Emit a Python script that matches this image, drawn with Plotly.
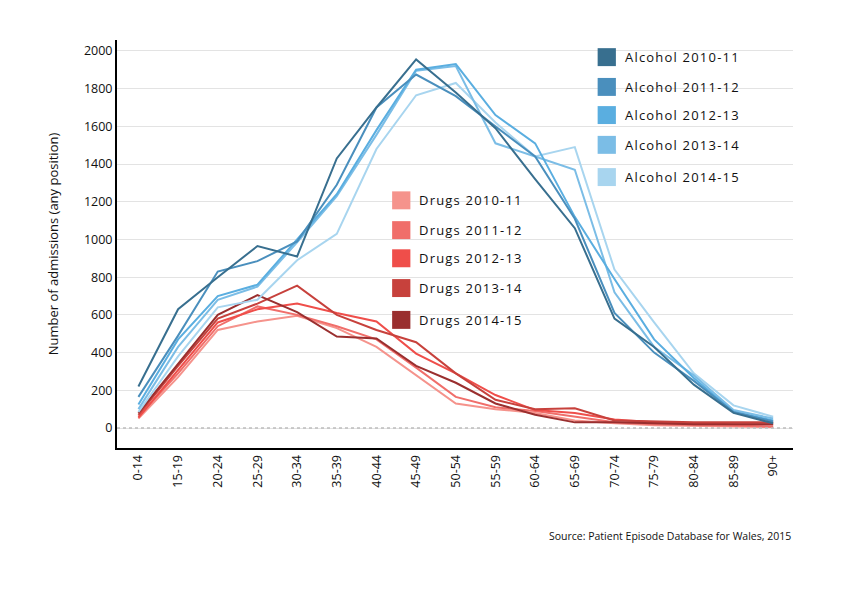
import plotly.graph_objects as go

# age bands on the x axis
ages = ['0-14', '15-19', '20-24', '25-29', '30-34', '35-39', '40-44', '45-49', '50-54',
        '55-59', '60-64', '65-69', '70-74', '75-79', '80-84', '85-89', '90+']

alcohol_2010_11 = [220, 630, 800, 965, 910, 1430, 1700, 1955, 1780, 1590, 1320, 1060, 580, 430, 230, 80, 25]
alcohol_2011_12 = [165, 490, 830, 885, 990, 1290, 1700, 1875, 1760, 1600, 1440, 1110, 610, 400, 250, 85, 35]
alcohol_2012_13 = [125, 470, 700, 760, 1000, 1240, 1580, 1900, 1930, 1660, 1510, 1120, 790, 470, 265, 85, 40]
alcohol_2013_14 = [100, 430, 680, 750, 985, 1230, 1555, 1895, 1920, 1510, 1440, 1370, 720, 430, 280, 95, 50]
alcohol_2014_15 = [85, 380, 640, 680, 890, 1030, 1480, 1765, 1830, 1620, 1440, 1490, 840, 560, 290, 120, 60]

drugs_2010_11 = [50, 270, 520, 565, 595, 530, 430, 280, 130, 100, 80, 40, 25, 15, 10, 8, 5]
drugs_2011_12 = [60, 290, 540, 645, 600, 540, 470, 320, 165, 110, 90, 60, 30, 20, 15, 10, 8]
drugs_2012_13 = [55, 310, 560, 630, 660, 610, 565, 395, 290, 175, 95, 80, 45, 30, 25, 20, 20]
drugs_2013_14 = [70, 330, 580, 660, 755, 600, 520, 455, 290, 150, 100, 105, 40, 35, 30, 30, 30]
drugs_2014_15 = [80, 340, 600, 705, 615, 485, 475, 330, 240, 130, 70, 30, 30, 25, 20, 20, 20]

alcohol = [('Alcohol 2010-11', alcohol_2010_11, '#386f8f'),
           ('Alcohol 2011-12', alcohol_2011_12, '#4a8fbd'),
           ('Alcohol 2012-13', alcohol_2012_13, '#5aaee0'),
           ('Alcohol 2013-14', alcohol_2013_14, '#7bbde6'),
           ('Alcohol 2014-15', alcohol_2014_15, '#a8d5ef')]
drugs = [('Drugs 2010-11', drugs_2010_11, '#f5938c'),
         ('Drugs 2011-12', drugs_2011_12, '#f06e6a'),
         ('Drugs 2012-13', drugs_2012_13, '#ef4e4a'),
         ('Drugs 2013-14', drugs_2013_14, '#c7413c'),
         ('Drugs 2014-15', drugs_2014_15, '#9a2f2f')]

font = 'Open Sans'
fig = go.Figure()

for name, vals, col in drugs + alcohol[::-1]:
    fig.add_trace(go.Scatter(x=ages, y=vals, mode='lines', name=name,
                             line=dict(color=col, width=2), showlegend=False))

# dotted zero line
fig.add_hline(y=0, line=dict(color='#bdbdbd', width=1.5, dash='dot'))

# hand-placed legend boxes (square swatch + label)
alc_y = [0.958, 0.885, 0.816, 0.743, 0.664]
drug_y = [0.607, 0.534, 0.465, 0.392, 0.314]
for (name, vals, col), yy in zip(alcohol, alc_y):
    fig.add_shape(type='rect', xref='paper', yref='paper', x0=0.711, x1=0.738,
                  y0=yy - 0.022, y1=yy + 0.022, fillcolor=col, line_width=0)
    fig.add_annotation(text='<span style="letter-spacing:1.2px">%s</span>' % name,
                       xref='paper', yref='paper', x=0.748, y=yy,
                       xanchor='left', yanchor='middle', showarrow=False,
                       font=dict(family=font, size=13, color='#111'))
for (name, vals, col), yy in zip(drugs, drug_y):
    fig.add_shape(type='rect', xref='paper', yref='paper', x0=0.407, x1=0.434,
                  y0=yy - 0.022, y1=yy + 0.022, fillcolor=col, line_width=0)
    fig.add_annotation(text='<span style="letter-spacing:1.2px">%s</span>' % name,
                       xref='paper', yref='paper', x=0.444, y=yy,
                       xanchor='left', yanchor='middle', showarrow=False,
                       font=dict(family=font, size=13, color='#111'))

fig.add_annotation(text='Source: Patient Episode Database for Wales, 2015',
                   xref='paper', yref='paper', x=1.0, y=-0.215, xanchor='right',
                   yanchor='middle', showarrow=False,
                   font=dict(family=font, size=10.5, color='#111'))

# page body has an 8px margin, so the figure is drawn 8px smaller
fig.update_layout(
    width=834, height=587,
    margin=dict(l=109, r=49, t=32, b=147),
    plot_bgcolor='white', paper_bgcolor='white',
    font=dict(family=font, size=12, color='#111'),
    xaxis=dict(range=[-0.54, 16.5], tickangle=-90, showgrid=False,
               showline=True, linecolor='black', linewidth=2, ticks='',
               tickfont=dict(size=12.5)),
    yaxis=dict(range=[-106, 2058], tickvals=list(range(0, 2001, 200)),
               showgrid=True, gridcolor='#e3e3e3', gridwidth=1, zeroline=False,
               showline=True, linecolor='black', linewidth=2, ticks='',
               tickfont=dict(size=12.5),
               title=dict(text='Number of admissions (any position)',
                          font=dict(size=13), standoff=22)),
)

fig.write_html('out.html')
